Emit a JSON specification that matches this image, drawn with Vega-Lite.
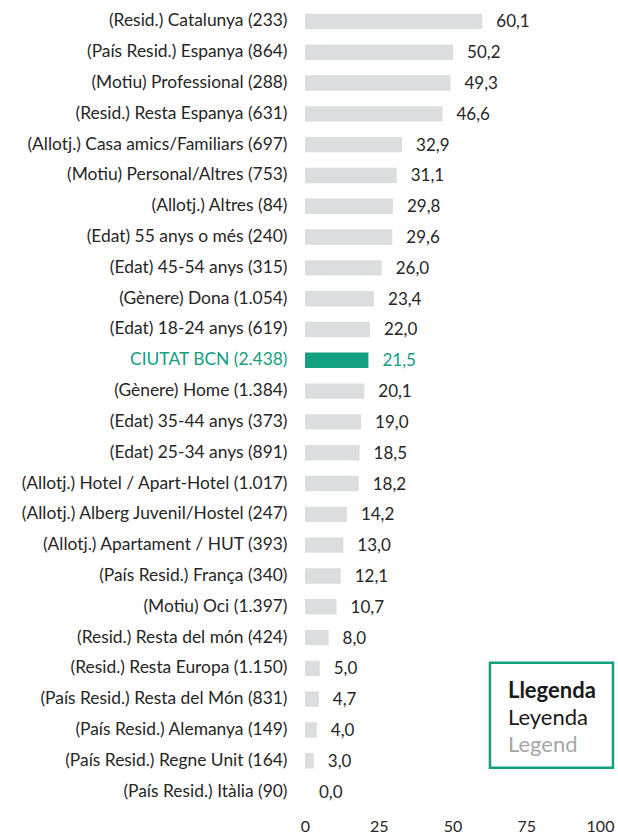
{
  "$schema": "https://vega.github.io/schema/vega-lite/v6.json",
  "width": 295,
  "height": 801,
  "autosize": {"type": "none"},
  "padding": {"left": 305, "top": 6, "right": 18, "bottom": 27},
  "config": {
    "view": {"stroke": null},
    "font": "Lato",
    "locale": {"number": {"decimal": ",", "thousands": ".", "grouping": [3], "currency": ["", " €"]}}
  },
  "datasets": {
    "main": [
      {"cat": "(Resid.) Catalunya (233)", "val": 60.1},
      {"cat": "(País Resid.) Espanya (864)", "val": 50.2},
      {"cat": "(Motiu) Professional (288)", "val": 49.3},
      {"cat": "(Resid.) Resta Espanya (631)", "val": 46.6},
      {"cat": "(Allotj.) Casa amics/Familiars (697)", "val": 32.9},
      {"cat": "(Motiu) Personal/Altres (753)", "val": 31.1},
      {"cat": "(Allotj.) Altres (84)", "val": 29.8},
      {"cat": "(Edat) 55 anys o més (240)", "val": 29.6},
      {"cat": "(Edat) 45-54 anys (315)", "val": 26.0},
      {"cat": "(Gènere) Dona (1.054)", "val": 23.4},
      {"cat": "(Edat) 18-24 anys (619)", "val": 22.0},
      {"cat": "CIUTAT BCN (2.438)", "val": 21.5},
      {"cat": "(Gènere) Home (1.384)", "val": 20.1},
      {"cat": "(Edat) 35-44 anys (373)", "val": 19.0},
      {"cat": "(Edat) 25-34 anys (891)", "val": 18.5},
      {"cat": "(Allotj.) Hotel / Apart-Hotel (1.017)", "val": 18.2},
      {"cat": "(Allotj.) Alberg Juvenil/Hostel (247)", "val": 14.2},
      {"cat": "(Allotj.) Apartament / HUT (393)", "val": 13.0},
      {"cat": "(País Resid.) França (340)", "val": 12.1},
      {"cat": "(Motiu) Oci (1.397)", "val": 10.7},
      {"cat": "(Resid.) Resta del món (424)", "val": 8.0},
      {"cat": "(Resid.) Resta Europa (1.150)", "val": 5.0},
      {"cat": "(País Resid.) Resta del Món (831)", "val": 4.7},
      {"cat": "(País Resid.) Alemanya (149)", "val": 4.0},
      {"cat": "(País Resid.) Regne Unit (164)", "val": 3.0},
      {"cat": "(País Resid.) Itàlia (90)", "val": 0.0}
    ]
  },
  "layer": [
    {
      "data": {"name": "main"},
      "encoding": {
        "y": {
          "field": "cat", "type": "nominal", "sort": null,
          "scale": {"paddingInner": 0.5, "paddingOuter": 0.25},
          "axis": {
            "title": null, "domain": false, "ticks": false, "labelPadding": 18,
            "labelFontSize": 17.4, "labelLimit": 400, "labelFont": "Lato",
            "labelColor": {"condition": {"test": "datum.value == 'CIUTAT BCN (2.438)'", "value": "#12a07f"}, "value": "#262626"}
          }
        },
        "x": {
          "field": "val", "type": "quantitative",
          "scale": {"domain": [0, 100], "nice": false},
          "axis": {
            "title": null, "domain": false, "ticks": false, "grid": false,
            "values": [0, 25, 50, 75, 100], "labelPadding": 11, "labelFlush": false,
            "labelFontSize": 16, "labelColor": "#262626", "labelFont": "Lato", "format": "d"
          }
        }
      },
      "layer": [
        {
          "mark": {"type": "bar"},
          "encoding": {
            "color": {"condition": {"test": "datum.cat == 'CIUTAT BCN (2.438)'", "value": "#12a07f"}, "value": "#dcdddf"}
          }
        },
        {
          "mark": {"type": "text", "align": "left", "baseline": "middle", "dx": 14, "dy": 1, "fontSize": 17, "font": "Lato"},
          "encoding": {
            "text": {"field": "val", "type": "quantitative", "format": ".1f"},
            "color": {"condition": {"test": "datum.cat == 'CIUTAT BCN (2.438)'", "value": "#12a07f"}, "value": "#262626"}
          }
        }
      ]
    },
    {
      "data": {"values": [{}]},
      "layer": [
        {
          "mark": {"type": "rect", "fill": "white", "stroke": "#12a07f", "strokeWidth": 2.5},
          "encoding": {
            "x": {"datum": 62.7},
            "x2": {"datum": 104.4},
            "y": {"datum": 82.0, "scale": {"domain": [0, 100], "reverse": true, "nice": false, "zero": false}, "axis": null},
            "y2": {"datum": 95.1}
          }
        },
        {
          "mark": {"type": "text", "text": "Llegenda", "align": "left", "baseline": "alphabetic", "fontSize": 22, "fontWeight": "bold", "color": "#1a1a1a", "font": "Lato"},
          "encoding": {"x": {"datum": 68.8}, "y": {"datum": 86.4}}
        },
        {
          "mark": {"type": "text", "text": "Leyenda", "align": "left", "baseline": "alphabetic", "fontSize": 22, "color": "#1a1a1a", "font": "Lato"},
          "encoding": {"x": {"datum": 68.8}, "y": {"datum": 89.8}}
        },
        {
          "mark": {"type": "text", "text": "Legend", "align": "left", "baseline": "alphabetic", "fontSize": 22, "color": "#a6a6a6", "font": "Lato"},
          "encoding": {"x": {"datum": 68.8}, "y": {"datum": 93.1}}
        }
      ]
    }
  ],
  "resolve": {"scale": {"y": "independent"}}
}
